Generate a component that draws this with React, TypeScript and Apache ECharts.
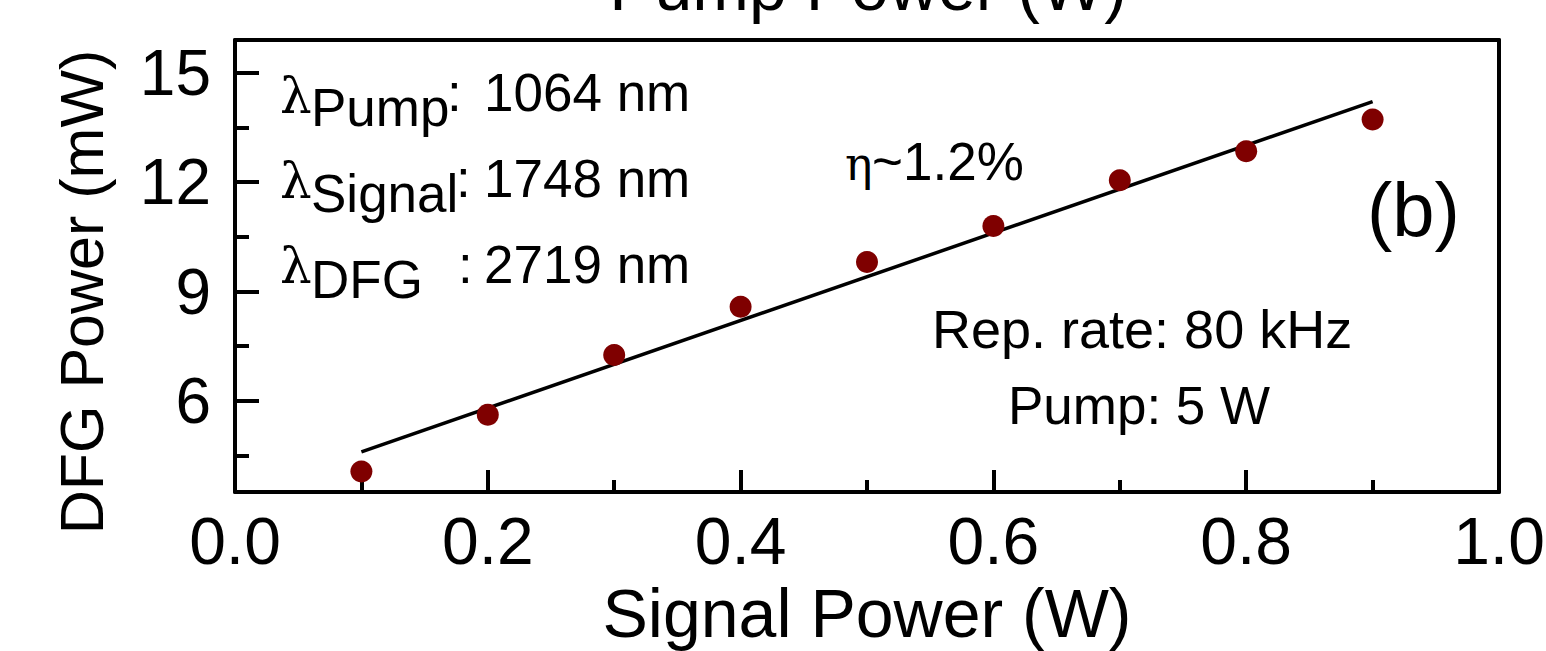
import React, { useEffect, useRef } from "react";
import * as echarts from "echarts";

// Measured data (Signal power W, DFG power mW)
const signalPower = [0.1, 0.2, 0.3, 0.4, 0.5, 0.6, 0.7, 0.8, 0.9];
const dfgPower = [4.06, 5.62, 7.26, 8.58, 9.81, 10.8, 12.05, 12.85, 13.72];
// Linear fit end points
const fitX = [0.1, 0.9];
const fitY = [4.6, 14.21];
// Tick values
const xMajorTicks = [0.2, 0.4, 0.6, 0.8];
const xMinorTicks = [0.1, 0.3, 0.5, 0.7, 0.9];
const yMajorTicks = [6, 9, 12, 15];
const yMinorTicks = [4.5, 7.5, 10.5, 13.5];

const FONT = "'Liberation Sans', Arial, sans-serif";
const SERIF = "'DejaVu Serif', 'Liberation Serif', serif";

function mid(baseline: number, fs: number) {
  return baseline - 0.3465 * fs;
}

export default function App() {
  const ref = useRef<HTMLDivElement>(null);
  useEffect(() => {
    if (!ref.current) return;
    const chart = echarts.init(ref.current, null, { renderer: "svg" });
    const txt = (x: number, baseline: number, text: string, fs: number, family = FONT, align = "left") => ({
      type: "text",
      x,
      y: mid(baseline, fs),
      style: { text, font: `${fs}px ${family}`, fill: "#000", textAlign: align, verticalAlign: "middle" },
      silent: true,
    });
    const AF = 53;
    const LF = 50;
    const graphics: any[] = [
      // top axis title (cropped at the top edge, as in the source figure)
      txt(868, 10, "Pump Power (W)", 68, FONT, "center"),
      // y axis title
      {
        type: "text",
        x: 82,
        y: 292,
        rotation: Math.PI / 2,
        style: { text: "DFG Power (mW)", font: `61px ${FONT}`, fill: "#000", textAlign: "center", verticalAlign: "middle" },
        silent: true,
      },
      // wavelengths
      txt(280, 113, "λ", LF, SERIF),
      txt(311, 126, "Pump", AF),
      txt(447, 111, ":", AF),
      txt(484, 111, "1064 nm", AF),
      txt(280, 198, "λ", LF, SERIF),
      txt(311, 212, "Signal", AF),
      txt(456, 197, ":", AF),
      txt(484, 197, "1748 nm", AF),
      txt(280, 283, "λ", LF, SERIF),
      txt(311, 298, "DFG", AF),
      txt(458, 283, ":", AF),
      txt(484, 283, "2719 nm", AF),
      // efficiency
      txt(845, 180, "η", 46, SERIF),
      txt(872, 180, "~1.2%", AF),
      // panel label
      txt(1367, 236, "(b)", 76),
      // conditions
      txt(932, 348, "Rep. rate: 80 kHz", 54),
      txt(1139, 424, "Pump: 5 W", AF, FONT, "center"),
    ];
    const ln = { color: "#000", width: 4 };
    const hidden = { show: false };
    const option: any = {
      animation: false,
      backgroundColor: "#ffffff",
      grid: { left: 235, top: 40, right: 47, bottom: 159, outerBoundsMode: "none", containLabel: false },
      xAxis: [
        {
          type: "value",
          position: "bottom",
          min: 0,
          max: 1,
          interval: 0.2,
          name: "Signal Power (W)",
          nameLocation: "middle",
          nameGap: 87,
          nameTextStyle: { fontFamily: FONT, fontSize: 68, color: "#000" },
          axisLine: { show: true, onZero: false, lineStyle: ln },
          axisTick: { show: true, inside: true, length: 22, customValues: xMajorTicks, lineStyle: ln },
          axisLabel: { fontFamily: FONT, fontSize: 66, color: "#000", margin: 16, formatter: (v: number) => v.toFixed(1) },
          splitLine: hidden,
        },
        {
          type: "value",
          position: "bottom",
          min: 0,
          max: 1,
          axisLine: hidden,
          axisTick: { show: true, inside: true, length: 12, customValues: xMinorTicks, lineStyle: ln },
          axisLabel: { show: false, customValues: xMinorTicks },
          splitLine: hidden,
        },
        {
          type: "value",
          position: "top",
          min: 0,
          max: 1,
          axisLine: { show: true, onZero: false, lineStyle: ln },
          axisTick: hidden,
          axisLabel: hidden,
          splitLine: hidden,
        },
      ],
      yAxis: [
        {
          type: "value",
          position: "left",
          min: 3.5,
          max: 15.9,
          axisLine: { show: true, onZero: false, lineStyle: ln },
          axisTick: { show: true, inside: true, length: 24, customValues: yMajorTicks, lineStyle: ln },
          axisLabel: { fontFamily: FONT, fontSize: 64, color: "#000", margin: 24, customValues: yMajorTicks },
          splitLine: hidden,
        },
        {
          type: "value",
          position: "left",
          min: 3.5,
          max: 15.9,
          axisLine: hidden,
          axisTick: { show: true, inside: true, length: 14, customValues: yMinorTicks, lineStyle: ln },
          axisLabel: { show: false, customValues: yMinorTicks },
          splitLine: hidden,
        },
        {
          type: "value",
          position: "right",
          min: 3.5,
          max: 15.9,
          axisLine: { show: true, onZero: false, lineStyle: ln },
          axisTick: hidden,
          axisLabel: hidden,
          splitLine: hidden,
        },
      ],
      series: [
        {
          type: "line",
          data: fitX.map((x, i) => [x, fitY[i]]),
          symbol: "none",
          lineStyle: { color: "#000", width: 3.5 },
          z: 2,
        },
        {
          type: "scatter",
          data: signalPower.map((x, i) => [x, dfgPower[i]]),
          symbol: "circle",
          symbolSize: 22,
          itemStyle: { color: "#7f0000", opacity: 1 },
          z: 3,
        },
      ],
      graphic: graphics,
    };
    chart.setOption(option);
    return () => chart.dispose();
  }, []);
  return <div ref={ref} style={{ width: 1546, height: 651, position: "absolute", left: 0, top: 0 }} />;
}
